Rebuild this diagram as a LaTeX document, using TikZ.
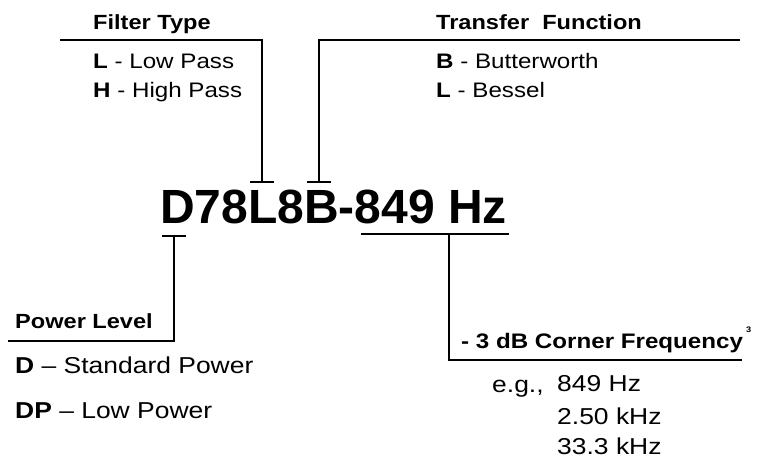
\documentclass[tikz,border=0pt]{standalone}
\usepackage{fontspec}
\setmainfont{Liberation Sans}
\newfontfamily\lblfont[FakeStretch=1.15]{Liberation Sans}
\usetikzlibrary{positioning}
\tikzset{lead/.style={line width=1.6pt}}
\tikzstyle{head}=[inner sep=0pt, anchor=base west, font=\lblfont\fontsize{20.5}{24}\selectfont\bfseries]
\tikzstyle{item}=[inner sep=0pt, anchor=base west, font=\lblfont\fontsize{21}{25}\selectfont]
\tikzstyle{itembig}=[item, font=\lblfont\fontsize{23}{27}\selectfont]

\begin{document}
\begin{tikzpicture}[x=1pt, y=-1pt]
\useasboundingbox (0,0) rectangle (762,458);
% part number
\node[inner sep=0pt, anchor=base west, font=\fontsize{48}{54}\selectfont\bfseries] (code) at (160,223) {D78L8B-849 Hz};

% filter type
\node[head] (ft) at (93,29) {Filter Type};
\node[item, below=39pt of ft.base west, anchor=base west] (lp) {{\bfseries L} - Low Pass};
\node[item, below=29pt of lp.base west, anchor=base west] (hp) {{\bfseries H} - High Pass};
\coordinate (ftL) at (60,40);
\coordinate (ftK) at (262,40);
\coordinate (ftT) at (262,182);
\draw[lead] (ftL) -- (ftK) -- (ftT);
\draw[lead] ([xshift=-12pt]ftT) -- ([xshift=12pt]ftT);

% transfer function
\node[head] (tf) at (436,29) {Transfer\ \ Function};
\node[item, below=39pt of tf.base west, anchor=base west] (bw) {{\bfseries B} - Butterworth};
\node[item, below=29pt of bw.base west, anchor=base west] (bs) {{\bfseries L} - Bessel};
\coordinate (tfR) at (740,40);
\coordinate (tfK) at (319,40);
\coordinate (tfT) at (319,182);
\draw[lead] (tfR) -- (tfK) -- (tfT);
\draw[lead] ([xshift=-12pt]tfT) -- ([xshift=12pt]tfT);

% power level
\node[head] (pl) at (15,328) {Power Level};
\node[itembig, below=45pt of pl.base west, anchor=base west] (sp) {{\bfseries D} – Standard Power};
\node[itembig, below=45pt of sp.base west, anchor=base west] (lw) {{\bfseries DP} – Low Power};
\coordinate (plL) at (8,341);
\coordinate (plK) at (174,341);
\coordinate (plT) at (174,236);
\draw[lead] (plL) -- (plK) -- (plT);
\draw[lead] ([xshift=-12pt]plT) -- ([xshift=12pt]plT);

% corner frequency
\node[head, font=\lblfont\fontsize{21}{24}\selectfont\bfseries] (cf) at (461,348) {- 3 dB Corner Frequency};
\node[inner sep=0pt, anchor=base west, font=\lblfont\fontsize{8}{9}\selectfont\bfseries] (cfn) at (746,332) {3};
\node[itembig, below=44pt of cf.base west, anchor=base west, xshift=31pt] (eg) {e.g.,};
\node[itembig, anchor=base west] (f1) at (557,391) {849 Hz};
\node[itembig, below=33pt of f1.base west, anchor=base west] (f2) {2.50 kHz};
\node[itembig, below=30pt of f2.base west, anchor=base west] (f3) {33.3 kHz};
\coordinate (cfR) at (742,360);
\coordinate (cfK) at (449,360);
\coordinate (cfT) at (449,234);
\draw[lead] (cfR) -- (cfK) -- (cfT);
\draw[lead] (361,234) -- (509,234);
\end{tikzpicture}
\end{document}
